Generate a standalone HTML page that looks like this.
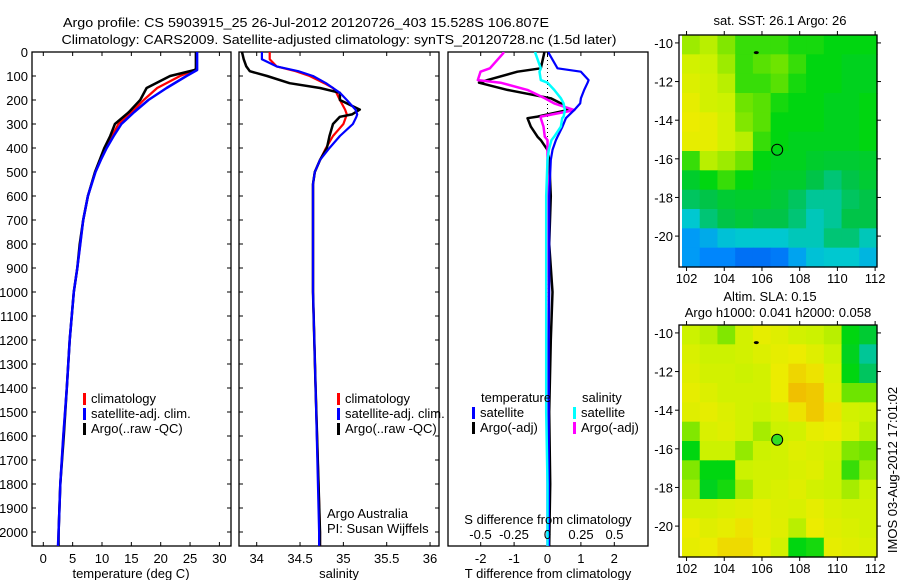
<!DOCTYPE html>
<html><head><meta charset="utf-8"><style>
html,body{margin:0;padding:0;background:#fff;width:900px;height:580px;overflow:hidden}
svg text{font-family:"Liberation Sans",Arial,sans-serif;font-size:13px;fill:#000}
</style></head><body>
<svg id="fig" width="900" height="580" xmlns="http://www.w3.org/2000/svg">
<text x="306" y="27" text-anchor="middle" textLength="486" lengthAdjust="spacingAndGlyphs">Argo profile: CS 5903915_25 26-Jul-2012 20120726_403 15.528S 106.807E</text>
<text x="339" y="44" text-anchor="middle" textLength="555" lengthAdjust="spacingAndGlyphs">Climatology: CARS2009. Satellite-adjusted climatology: synTS_20120728.nc (1.5d later)</text>
<g id="layer"></g>
</svg>
<script>
// ---------- data ----------
const depthsT = [0,70,75,100,150,200,250,300,350,400,450,500,600,700,800,900,1000,1200,1400,1600,1800,2000,2058];
const tempClim = [26.1,26.1,25.8,23.3,19.4,17.1,15.1,12.8,11.7,10.5,9.7,8.8,7.6,6.8,6.3,5.8,5.2,4.5,4.0,3.4,2.9,2.6,2.5];
const tempSat  = [26.2,26.2,26.2,24.4,21.0,17.9,15.5,13.3,12.0,10.8,9.8,8.9,7.6,6.8,6.3,5.8,5.2,4.5,4.0,3.4,2.9,2.6,2.5];
const tempArgo = [26.0,26.0,25.8,21.6,17.6,16.5,14.6,12.2,11.4,10.4,9.6,8.8,7.6,6.8,6.2,5.8,5.2,4.5,4.0,3.5,2.9,2.6,2.6];
const depthsS = [0,30,60,80,100,130,150,170,200,240,260,270,300,350,400,450,500,550,600,1000,1400,2000,2058];
const salClim = [34.15,34.15,34.23,34.45,34.61,34.78,34.88,34.92,34.96,35.02,35.04,35.03,35.0,34.88,34.8,34.73,34.67,34.65,34.65,34.65,34.68,34.73,34.73];
const salSat  = [34.06,34.06,34.23,34.48,34.65,34.8,34.88,34.96,35.04,35.14,35.16,35.15,35.11,34.96,34.84,34.73,34.67,34.65,34.65,34.65,34.68,34.72,34.72];
const salArgo = [33.83,33.85,33.88,33.92,34.12,34.38,34.73,34.96,34.96,35.19,35.1,34.96,34.88,34.84,34.81,34.73,34.67,34.65,34.65,34.65,34.68,34.73,34.73];
const depthsD = [0,5,68,82,117,128,158,193,214,242,269,276,311,353,367,408,450,600,800,1000,1200,1500,1800,2058];
const dTsat  = [0.04,0.04,0.3,1.0,1.23,1.2,1.1,1.0,0.98,0.8,0.6,0.55,0.45,0.3,0.25,0.15,0.1,0.05,0.05,0.05,0.04,0.04,0.04,0.04];
const dTargo = [-0.1,-0.1,-0.2,-0.9,-1.8,-2.05,-1.2,0.1,0.4,0.6,-0.3,-0.6,-0.5,-0.3,-0.2,0.0,0.05,0.1,0.05,0.15,0.1,0.05,0.08,0.05];
const dSsat  = [-0.09,-0.09,-0.05,-0.06,-0.05,0.0,0.05,0.1,0.12,0.13,0.12,0.11,0.1,0.05,0.03,0.01,0.0,-0.01,-0.01,-0.01,-0.01,-0.01,0.0,0.0];
const dSargo = [-0.33,-0.33,-0.43,-0.5,-0.52,-0.35,-0.15,-0.02,0.05,0.2,-0.05,-0.05,-0.03,-0.02,0.0,0.0,0.0,0.0,0.0,0.01,0.0,0.0,0.0,0.0];
const depthTicks = [0,100,200,300,400,500,600,700,800,900,1000,1100,1200,1300,1400,1500,1600,1700,1800,1900,2000];
const tempTicks = [0,5,10,15,20,25,30];
const salTicks = [34,34.5,35,35.5,36];
const dTTicks = [-2,-1,0,1,2];
const dSTicks = [-0.5,-0.25,0,0.25,0.5];
const dSTickLabels = ["-0.5","-0.25","0","0.25","0.5"];
const lonTicks = [102,104,106,108,110,112];
const latTicks = [-10,-12,-14,-16,-18,-20];
const sstGrid = [
[.65,.68,.62,.55,.55,.55,.52,.52,.5,.5,.5],
[.72,.7,.65,.55,.58,.6,.55,.5,.5,.48,.48],
[.75,.72,.68,.55,.55,.58,.52,.5,.5,.48,.48],
[.78,.72,.7,.6,.58,.52,.5,.5,.48,.48,.5],
[.8,.78,.72,.62,.58,.5,.5,.5,.48,.48,.5],
[.78,.78,.72,.68,.55,.5,.48,.48,.48,.48,.5],
[.55,.68,.65,.6,.5,.48,.48,.46,.45,.45,.46],
[.46,.5,.55,.5,.48,.46,.46,.42,.38,.42,.45],
[.4,.42,.45,.46,.46,.44,.4,.35,.35,.4,.42],
[.3,.38,.42,.44,.42,.42,.38,.32,.35,.42,.42],
[.18,.22,.28,.3,.3,.3,.32,.32,.38,.38,.32],
[.18,.12,.12,.05,.05,.08,.2,.28,.3,.3,.25]];
const slaGrid = [
[.7,.68,.62,.72,.78,.76,.72,.7,.68,.5,.45],
[.74,.7,.7,.72,.75,.78,.8,.76,.7,.48,.35],
[.76,.72,.72,.7,.72,.8,.85,.82,.74,.5,.4],
[.78,.75,.72,.72,.72,.8,.9,.88,.76,.6,.6],
[.76,.78,.75,.72,.7,.74,.82,.88,.82,.72,.7],
[.62,.74,.76,.72,.66,.7,.72,.78,.8,.74,.68],
[.5,.7,.7,.64,.7,.72,.76,.74,.72,.62,.6],
[.62,.5,.5,.7,.72,.72,.74,.76,.7,.55,.65],
[.66,.48,.52,.66,.72,.74,.76,.72,.7,.66,.7],
[.72,.72,.74,.76,.78,.75,.74,.78,.74,.72,.72],
[.8,.76,.78,.82,.78,.76,.68,.8,.76,.74,.72],
[.78,.8,.84,.84,.8,.72,.5,.52,.78,.76,.74]];
const floatPos = [106.807,-15.528];
const prevPos = [105.7,-10.5];

// ---------- helpers ----------
const NS="http://www.w3.org/2000/svg";
const L=document.getElementById('layer');
function mk(tag,attrs,parent){const e=document.createElementNS(NS,tag);for(const k in attrs)e.setAttribute(k,attrs[k]);(parent||L).appendChild(e);return e;}
function txt(x,y,s,anchor,parent){const t=mk('text',{x:x,y:y,'text-anchor':anchor||'start'},parent);t.textContent=s;return t;}
const yTop=52,yBot=546;
const yD=d=>yTop+d*0.24;

function panel(x0,x1,xs,name,ticks,fmt,ticksAtTop){
  const g=mk('g',{});
  
  
  const r=mk('rect',{x:x0,y:yTop,width:x1-x0,height:yBot-yTop,fill:'none',stroke:'#000','stroke-width':1.3},g);
  
  
  ticks.forEach((v,i)=>{const x=xs(v);
    mk('line',{x1:x,x2:x,y1:yBot,y2:yBot-4,stroke:'#000'},g);
    if(ticksAtTop!==false) mk('line',{x1:x,x2:x,y1:yTop,y2:yTop+4,stroke:'#000'},g);
    if(fmt){const t=txt(x,563,fmt(v,i),'middle',g);
      
      }
  });
  return g;
}
function line(depths,vals,xs,color,w,name,dash){
  const p=depths.map((d,i)=>(i?'L':'M')+xs(vals[i]).toFixed(1)+','+yD(d).toFixed(1)).join('');
  const e=mk('path',{d:p,fill:'none',stroke:color,'stroke-width':w,'stroke-linejoin':'round'});
  if(dash)e.setAttribute('stroke-dasharray',dash);
  
  
  return e;
}
function legend(x,y,color,label,name){
  const g=mk('g',{});
  
  
  mk('rect',{x:x,y:y-10,width:3,height:12,fill:color},g);
  txt(x+8,y,label,'start',g);
}

// ---------- panel 1: temperature ----------
const xT=v=>43.3+v*5.87;
panel(32,231,xT,'temperature-panel',tempTicks,v=>String(v));
depthTicks.forEach(d=>{const y=yD(d);
  mk('line',{x1:32,x2:36,y1:y,y2:y,stroke:'#000'});
  mk('line',{x1:231,x2:227,y1:y,y2:y,stroke:'#000'});
  mk('line',{x1:239,x2:243,y1:y,y2:y,stroke:'#000'});
  mk('line',{x1:439,x2:435,y1:y,y2:y,stroke:'#000'});
  const t=txt(28,y+5,String(d),'end');
  
  
});
line(depthsT,tempClim,xT,'#ff0000',2.2,'temp-climatology-line');
line(depthsT,tempArgo,xT,'#000000',2.5,'temp-argo-line');
line(depthsT,tempSat,xT,'#0000ff',2.5,'temp-satellite-line');
const xl1=txt(131,578,'temperature (deg C)','middle');


legend(83,403,'#ff0000','climatology','legend-climatology');
legend(83,418,'#0000ff','satellite-adj. clim.','legend-satellite-adj');
legend(83,433,'#000000','Argo(..raw -QC)','legend-argo');

// ---------- panel 2: salinity ----------
const xS=v=>256.7+(v-34)*86.67;
panel(239,439,xS,'salinity-panel',salTicks,v=>String(v));
line(depthsS,salClim,xS,'#ff0000',2.2,'sal-climatology-line');
line(depthsS,salArgo,xS,'#000000',2.5,'sal-argo-line');
line(depthsS,salSat,xS,'#0000ff',2.2,'sal-satellite-line');
const xl2=txt(339,578,'salinity','middle');


legend(337,403,'#ff0000','climatology','legend-climatology-2');
legend(337,418,'#0000ff','satellite-adj. clim.','legend-satellite-adj-2');
legend(337,433,'#000000','Argo(..raw -QC)','legend-argo-2');
const aa=txt(327,518,'Argo Australia');


const pi=txt(327,533,'PI: Susan Wijffels');



// ---------- panel 3: differences ----------
const xDT=v=>547.5+v*33.4;
const xDS=v=>547.5+v*134;
panel(448,648,xDT,'difference-panel',dTTicks,v=>String(v));
const zl=mk('line',{x1:xDT(0),x2:xDT(0),y1:yTop,y2:400,stroke:'#000','stroke-dasharray':'1,3'});


line(depthsD,dTargo,xDT,'#000000',2.5,'dT-argo-line');
line(depthsD,dSargo,xDS,'#ff00ff',2.5,'dS-argo-line');
line(depthsD,dTsat,xDT,'#0000ff',2.2,'dT-satellite-line');
line(depthsD,dSsat,xDS,'#00ffff',2.5,'dS-satellite-line');
dSTicks.forEach((v,i)=>{const t=txt(xDS(v),539,dSTickLabels[i],'middle');
  
  });
const sdt=txt(548,524,'S difference from climatology','middle');


const tdt=txt(548,578,'T difference from climatology','middle');


const lt=txt(481,402,'temperature');


const ls=txt(582,402,'salinity');


legend(472,417,'#0000ff','satellite','legend-t-satellite');
legend(472,432,'#000000','Argo(-adj)','legend-t-argo');
legend(573,417,'#00ffff','satellite','legend-s-satellite');
legend(573,432,'#ff00ff','Argo(-adj)','legend-s-argo');

// ---------- maps ----------
const stops=[[0,[0,96,240]],[0.15,[0,144,255]],[0.3,[0,200,208]],[0.42,[0,196,72]],[0.5,[0,214,16]],[0.6,[110,228,0]],[0.7,[204,242,0]],[0.8,[236,236,0]],[0.9,[240,192,0]],[1,[240,144,0]]];
function cmap(v){for(let i=1;i<stops.length;i++){if(v<=stops[i][0]){const a=stops[i-1],b=stops[i],f=(v-a[0])/(b[0]-a[0]);
  return 'rgb('+a[1].map((c,k)=>Math.round(c+(b[1][k]-c)*f)).join(',')+')';}}return 'rgb(240,144,0)';}
function map(x0,x1,y0,y1,lon0,lon1,lat0,lat1,grid,name,filled){
  const g=mk('g',{});
  
  
  const mx=v=>x0+(v-lon0)/(lon1-lon0)*(x1-x0);
  const my=v=>y0+(lat0-v)/(lat0-lat1)*(y1-y0);
  const rows=grid.length,cols=grid[0].length;
  const cw=(x1-x0-3)/cols,ch=(y1-y0)/rows;
  grid.forEach((row,r)=>row.forEach((v,c)=>{
    const cell=mk('rect',{x:(x0+3+c*cw).toFixed(2),y:(y0+r*ch).toFixed(2),width:(cw+0.6).toFixed(2),height:(ch+0.6).toFixed(2),fill:cmap(v)},g);
    
    
  }));
  const fr=mk('rect',{x:x0,y:y0,width:x1-x0,height:y1-y0,fill:'none',stroke:'#000','stroke-width':1.3},g);
  
  
  lonTicks.forEach(v=>{const x=mx(v);
    mk('line',{x1:x,x2:x,y1:y1,y2:y1+4,stroke:'#000'},g);
    mk('line',{x1:x,x2:x,y1:y0,y2:y0-4,stroke:'#000'},g);
    txt(x,y1+16,String(v),'middle',g);});
  latTicks.forEach(v=>{const y=my(v);
    mk('line',{x1:x0,x2:x0-4,y1:y,y2:y,stroke:'#000'},g);
    mk('line',{x1:x1,x2:x1+4,y1:y,y2:y,stroke:'#000'},g);
    txt(x0-6,y+5,String(v),'end',g);});
  const pv=mk('ellipse',{cx:mx(prevPos[0]),cy:my(prevPos[1]),rx:2.5,ry:1.5,fill:'#000'},g);
  
  
  const fp=mk('circle',{cx:mx(floatPos[0]),cy:my(floatPos[1]),r:5.5,fill:filled?'#33dd22':'none',stroke:'#000','stroke-width':1},g);
  
  
}
map(679,877,35,267,101.6,112.1,-9.59,-21.6,sstGrid,'sst-map',false);
map(679,877,325,557,101.6,112.1,-9.59,-21.6,slaGrid,'sla-map',true);
const mt1=txt(780,25,'sat. SST: 26.1 Argo: 26','middle');


const mt2=txt(770,301,'Altim. SLA: 0.15','middle');


const mt3=txt(778,317,'Argo h1000: 0.041 h2000: 0.058','middle');


const im=txt(0,0,'IMOS 03-Aug-2012 17:01:02','middle');
im.setAttribute('transform','translate(897,470) rotate(-90)');


</script>
</body></html>
